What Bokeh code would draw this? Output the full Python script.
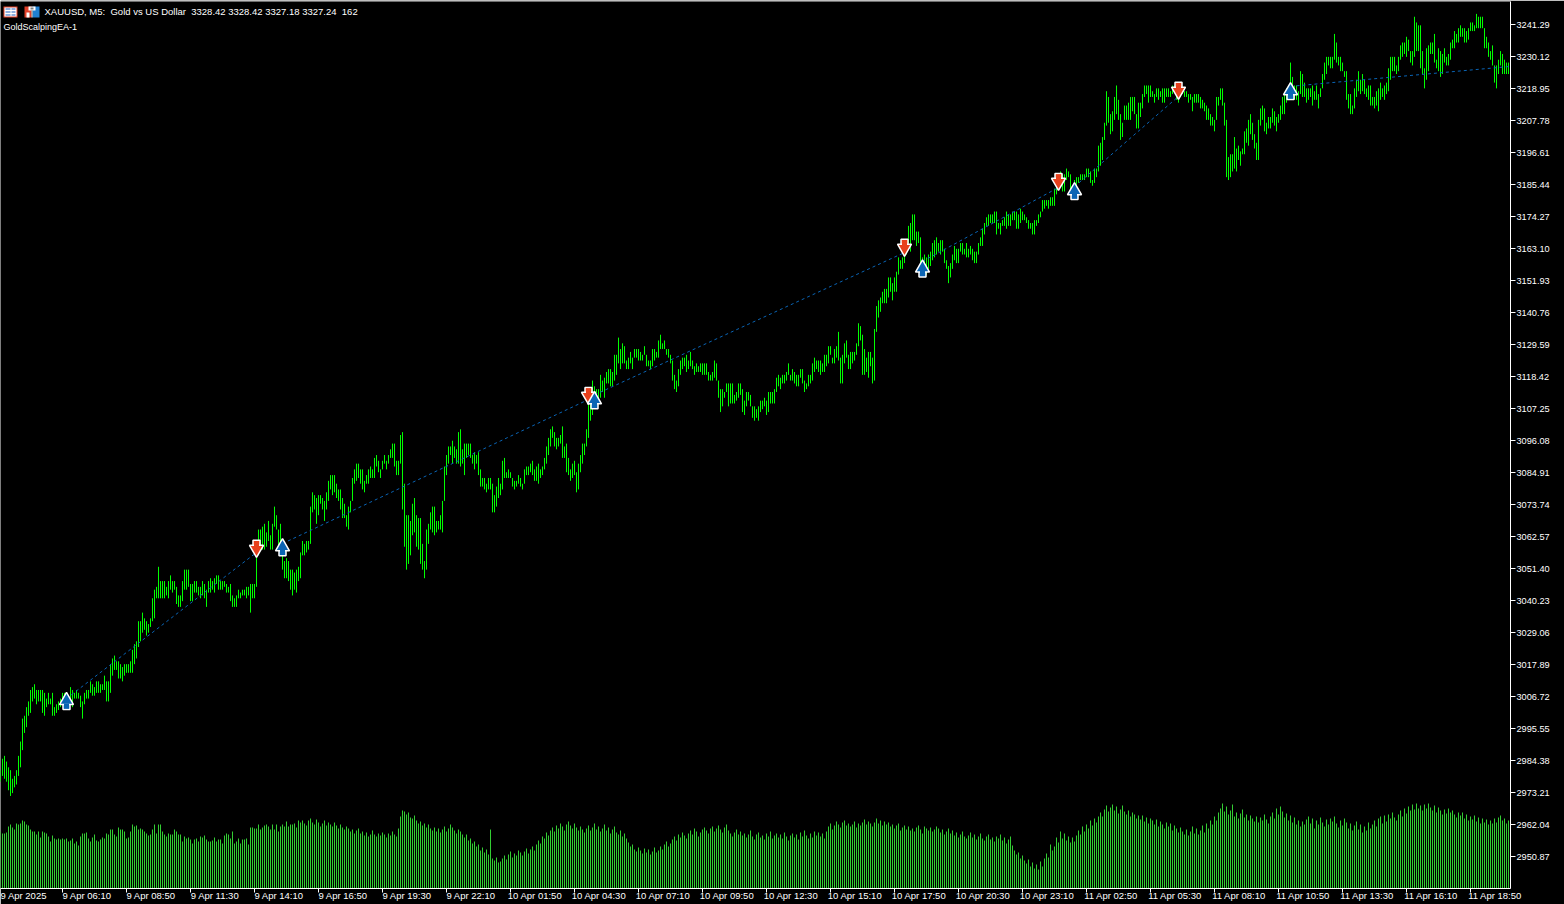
from bokeh.plotting import figure
from bokeh.embed import file_html
from bokeh.resources import INLINE
from bokeh.models import (Range1d, LinearAxis, FixedTicker, PrintfTickFormatter,
                          Label, BoxAnnotation)

highs = [
2981,2985,2986,2984,2982,2981,2978,2979,2981,2986,
2991,2999,3000,3003,3005,3009,3010,3011,3009,3009,
3009,3009,3008,3006,3008,3006,3008,3003,3004,3005,
3006,3008,3008,3007,3007,3010,3009,3008,3009,3008,
3007,3005,3008,3009,3009,3012,3011,3010,3012,3012,
3011,3011,3014,3012,3012,3018,3020,3021,3019,3019,
3018,3017,3018,3018,3018,3019,3023,3025,3026,3033,
3033,3036,3034,3033,3032,3034,3041,3044,3045,3052,
3047,3047,3047,3045,3047,3049,3047,3047,3045,3042,
3042,3047,3051,3051,3051,3046,3046,3047,3047,3045,
3045,3047,3046,3044,3047,3048,3047,3048,3049,3049,
3047,3047,3047,3046,3045,3046,3042,3041,3042,3044,
3043,3044,3044,3045,3045,3046,3046,3046,3057,3065,
3065,3066,3067,3064,3068,3063,3067,3073,3070,3065,
3067,3060,3054,3055,3054,3051,3051,3050,3051,3052,
3057,3061,3060,3061,3061,3073,3078,3077,3076,3077,
3077,3076,3075,3078,3082,3084,3084,3084,3081,3079,
3079,3076,3074,3070,3073,3075,3083,3086,3088,3088,
3086,3086,3082,3084,3086,3087,3086,3090,3091,3089,
3086,3089,3091,3089,3091,3093,3095,3095,3089,3089,
3098,3099,3081,3070,3070,3068,3074,3076,3070,3069,
3069,3060,3054,3065,3067,3071,3073,3073,3068,3068,
3070,3075,3087,3091,3094,3094,3096,3094,3093,3099,
3100,3093,3095,3095,3095,3095,3091,3092,3091,3092,
3086,3083,3083,3081,3083,3083,3081,3077,3080,3083,
3081,3089,3090,3085,3086,3085,3083,3082,3082,3084,
3083,3081,3086,3087,3087,3088,3089,3086,3087,3088,
3086,3087,3090,3094,3097,3100,3101,3099,3097,3097,
3098,3101,3094,3095,3090,3086,3088,3089,3085,3088,
3091,3095,3095,3100,3111,3112,3117,3115,3114,3114,
3119,3117,3118,3120,3121,3121,3120,3126,3126,3132,
3128,3130,3129,3124,3125,3127,3125,3128,3128,3128,
3127,3126,3129,3126,3124,3124,3128,3128,3127,3131,
3133,3130,3131,3128,3128,3126,3124,3119,3117,3121,
3124,3125,3125,3126,3124,3127,3124,3122,3123,3122,
3123,3123,3123,3123,3120,3119,3120,3124,3123,3117,
3114,3114,3113,3116,3116,3116,3116,3112,3113,3116,
3116,3114,3110,3113,3113,3112,3108,3108,3107,3108,
3110,3110,3111,3110,3113,3113,3113,3114,3118,3119,
3118,3119,3119,3120,3123,3119,3121,3120,3119,3119,
3121,3121,3117,3116,3119,3119,3123,3125,3124,3124,
3124,3123,3126,3126,3129,3129,3125,3128,3129,3134,
3125,3126,3130,3131,3126,3127,3127,3127,3130,3137,
3136,3133,3128,3125,3127,3127,3125,3135,3143,3145,
3146,3148,3149,3149,3153,3153,3151,3153,3155,3160,
3159,3160,3165,3164,3171,3172,3175,3175,3169,3169,
3167,3160,3161,3160,3161,3162,3165,3166,3167,3165,
3166,3166,3163,3159,3157,3158,3161,3164,3163,3163,
3165,3165,3163,3165,3163,3164,3163,3162,3162,3165,
3167,3170,3172,3174,3175,3175,3175,3176,3176,3172,
3172,3173,3174,3176,3175,3175,3176,3176,3176,3175,
3177,3176,3175,3174,3173,3172,3172,3173,3173,3175,
3176,3180,3180,3180,3180,3181,3181,3184,3188,3187,
3190,3189,3189,3191,3190,3189,3185,3187,3188,3188,
3189,3189,3189,3191,3191,3190,3187,3191,3191,3199,
3200,3202,3207,3218,3216,3210,3211,3216,3220,3215,
3210,3207,3213,3213,3214,3216,3216,3216,3210,3214,
3214,3217,3220,3220,3220,3220,3218,3217,3219,3219,
3218,3219,3219,3219,3219,3218,3220,3220,3219,3217,
3218,3218,3218,3218,3217,3217,3216,3217,3217,3217,
3216,3215,3214,3213,3212,3210,3209,3208,3216,3216,
3219,3219,3214,3208,3195,3196,3196,3202,3198,3199,
3197,3198,3204,3205,3208,3210,3207,3203,3200,3208,
3212,3213,3212,3207,3209,3209,3212,3211,3209,3210,
3213,3216,3217,3219,3220,3228,3223,3220,3220,3218,
3225,3224,3221,3219,3219,3219,3220,3218,3220,3217,
3219,3224,3228,3230,3230,3230,3230,3238,3235,3230,
3230,3228,3225,3225,3217,3217,3213,3219,3222,3225,
3222,3224,3222,3219,3220,3220,3216,3216,3218,3219,
3221,3219,3220,3221,3226,3230,3230,3230,3227,3230,
3234,3235,3235,3237,3236,3232,3232,3244,3242,3241,
3241,3232,3226,3233,3234,3235,3235,3238,3229,3233,
3232,3231,3233,3230,3231,3235,3236,3239,3238,3240,
3241,3240,3240,3239,3240,3242,3242,3241,3245,3244,
3244,3244,3240,3237,3235,3232,3234,3227,3227,3229,
3232,3231,3229,3228,3228,
]

lows = [
2977,2979,2978,2977,2974,2972,2973,2975,2976,2979,
2982,2988,2994,2996,3000,3001,3005,3006,3004,3005,
3005,3001,3000,3003,3004,3004,3000,3000,3001,3002,
3003,3004,3004,3004,3004,3006,3003,3006,3006,3006,
3003,2999,3004,3006,3006,3008,3007,3007,3008,3008,
3008,3009,3009,3005,3005,3008,3014,3016,3016,3013,
3013,3012,3014,3015,3015,3015,3015,3018,3020,3024,
3026,3029,3030,3028,3029,3031,3033,3034,3041,3041,
3041,3041,3041,3042,3041,3044,3043,3044,3039,3038,
3038,3040,3044,3044,3045,3040,3040,3043,3043,3042,
3041,3042,3041,3038,3043,3043,3044,3043,3046,3044,
3044,3044,3045,3043,3043,3040,3038,3038,3038,3041,
3041,3042,3042,3041,3042,3036,3041,3041,3045,3056,
3058,3058,3058,3059,3061,3058,3058,3066,3065,3059,
3060,3051,3048,3048,3047,3044,3042,3044,3043,3047,
3048,3056,3056,3057,3058,3060,3071,3072,3067,3070,
3074,3072,3068,3072,3075,3079,3077,3078,3076,3075,
3072,3069,3069,3066,3065,3071,3075,3081,3082,3083,
3081,3079,3078,3081,3081,3083,3083,3083,3087,3085,
3083,3086,3088,3086,3088,3090,3090,3087,3084,3084,
3088,3072,3059,3051,3053,3056,3063,3064,3059,3058,
3053,3051,3048,3051,3060,3065,3064,3063,3064,3065,
3065,3064,3075,3084,3088,3091,3088,3090,3088,3088,
3087,3088,3084,3090,3091,3090,3088,3086,3088,3084,
3080,3080,3079,3078,3079,3079,3071,3071,3073,3076,
3077,3079,3083,3083,3083,3083,3080,3079,3080,3081,
3080,3079,3081,3084,3084,3085,3084,3082,3082,3081,
3083,3084,3086,3088,3091,3094,3097,3094,3093,3094,
3095,3090,3090,3085,3084,3082,3083,3084,3078,3079,
3085,3088,3091,3094,3097,3103,3105,3110,3111,3110,
3111,3113,3111,3116,3116,3115,3115,3117,3119,3123,
3121,3123,3123,3121,3121,3123,3121,3125,3125,3124,
3124,3124,3126,3122,3122,3121,3122,3124,3125,3125,
3128,3128,3128,3126,3125,3123,3117,3114,3113,3115,
3119,3121,3122,3120,3121,3122,3121,3119,3120,3120,
3120,3119,3119,3119,3117,3117,3117,3118,3117,3111,
3106,3108,3111,3113,3108,3109,3109,3109,3110,3111,
3112,3106,3105,3108,3110,3108,3104,3103,3104,3103,
3106,3107,3108,3105,3106,3109,3109,3109,3113,3115,
3114,3116,3116,3117,3119,3117,3117,3116,3115,3115,
3118,3116,3113,3114,3115,3116,3117,3120,3121,3120,
3119,3120,3120,3122,3123,3126,3123,3123,3125,3124,
3116,3116,3123,3125,3121,3121,3123,3124,3126,3129,
3131,3119,3119,3120,3118,3122,3116,3117,3134,3139,
3141,3144,3144,3144,3146,3148,3145,3148,3148,3154,
3156,3156,3158,3161,3165,3162,3166,3166,3164,3165,
3154,3154,3156,3154,3156,3157,3159,3160,3161,3162,
3161,3162,3158,3156,3151,3153,3156,3159,3158,3158,
3162,3161,3161,3160,3160,3161,3159,3158,3158,3161,
3164,3164,3168,3171,3171,3172,3172,3172,3168,3170,
3168,3171,3171,3170,3171,3171,3173,3173,3170,3170,
3172,3173,3173,3172,3170,3170,3168,3168,3171,3172,
3174,3176,3177,3178,3177,3178,3178,3178,3182,3184,
3186,3183,3183,3187,3188,3183,3183,3184,3184,3186,
3187,3187,3187,3188,3188,3186,3185,3186,3188,3190,
3192,3194,3201,3206,3207,3203,3204,3208,3210,3208,
3201,3202,3208,3208,3208,3208,3211,3210,3205,3205,
3209,3212,3216,3217,3214,3216,3216,3214,3216,3215,
3216,3214,3214,3216,3216,3216,3217,3218,3215,3214,
3216,3217,3216,3216,3214,3215,3211,3214,3214,3214,
3212,3212,3211,3208,3208,3206,3206,3204,3208,3213,
3215,3213,3206,3188,3187,3188,3190,3191,3190,3194,
3192,3196,3196,3200,3199,3203,3201,3198,3194,3194,
3206,3208,3204,3203,3205,3205,3207,3206,3204,3207,
3208,3210,3210,3214,3215,3218,3216,3215,3215,3213,
3217,3216,3216,3214,3215,3216,3213,3215,3215,3212,
3216,3219,3222,3224,3227,3226,3226,3229,3228,3227,
3225,3225,3223,3215,3212,3210,3210,3212,3216,3218,
3217,3218,3217,3216,3215,3213,3213,3212,3213,3211,
3215,3216,3215,3217,3218,3222,3225,3225,3224,3225,
3229,3230,3231,3230,3232,3228,3227,3230,3232,3232,
3226,3224,3219,3222,3225,3231,3231,3228,3226,3225,
3223,3224,3228,3227,3227,3229,3233,3233,3235,3235,
3237,3237,3235,3235,3236,3239,3239,3239,3240,3240,
3240,3240,3233,3233,3230,3229,3227,3221,3219,3224,
3227,3224,3224,3224,3224,
]

volumes = [
57,55,55,56,62,64,61,59,65,64,65,68,67,64,63,59,57,57,54,57,
51,57,56,55,52,47,53,50,49,50,
49,50,49,50,47,48,50,45,47,43,
52,55,55,56,50,47,51,54,48,47,
49,51,50,55,54,59,59,54,52,61,
59,59,57,50,51,57,64,62,63,59,
60,59,57,55,53,54,59,64,55,64,
64,57,54,52,55,54,54,59,57,54,
54,47,52,50,51,49,45,49,50,47,
52,51,53,49,47,47,48,51,47,49,
49,45,53,55,54,50,57,45,47,50,
45,49,49,50,44,61,61,60,60,64,
59,61,63,64,62,59,64,59,64,57,
62,64,62,67,62,64,64,65,61,68,
66,68,65,63,68,70,66,64,69,66,62,65,68,63,66,64,62,66,63,60,
64,61,59,62,60,57,59,55,58,60,55,57,53,56,52,54,58,54,52,55,
53,56,54,51,55,53,57,54,52,60,72,78,77,74,76,71,70,73,68,65,
67,63,65,61,64,60,58,61,57,60,56,59,62,57,60,64,61,58,55,59,
57,54,51,54,48,50,45,47,42,44,38,41,36,39,34,59,30,28,31,26,
27,30,33,29,34,37,31,35,33,38,36,33,37,40,35,39,42,38,44,48,
45,52,50,56,53,58,61,57,63,60,65,62,58,64,67,63,60,65,61,58,
62,59,56,60,63,58,61,65,59,62,57,60,64,58,61,55,59,62,56,54,
58,52,55,50,46,42,44,39,37,41,38,35,40,36,39,34,37,41,36,38,
42,39,44,47,42,45,49,52,48,54,51,56,53,50,55,58,54,60,57,52,
56,59,61,58,55,60,62,57,60,63,59,56,61,64,58,55,52,56,59,54,
57,53,55,51,54,58,52,49,54,56,51,53,49,55,52,57,50,53,55,51,
54,50,56,52,48,53,55,51,54,49,56,52,58,53,50,55,51,57,53,56,
52,55,50,57,62,65,59,63,67,64,61,66,68,63,65,62,64,67,61,65,
63,66,69,64,67,65,62,66,70,65,68,63,67,64,66,62,64,60,63,65,
58,61,63,59,62,58,60,57,61,63,59,55,62,60,58,61,57,59,62,60,
56,59,54,57,60,55,58,53,56,51,54,57,52,50,53,56,51,54,49,52,
55,50,48,52,54,49,51,47,52,50,54,48,51,45,49,52,43,38,34,36,
30,33,28,25,29,22,26,20,24,19,27,22,30,35,31,44,38,42,51,46,
57,50,55,48,52,46,51,47,53,58,54,62,57,64,60,68,63,70,66,72,
76,72,79,83,77,81,84,78,82,75,79,83,77,74,78,72,76,74,70,73,
69,73,67,71,65,70,68,64,69,62,67,64,60,66,62,65,58,63,60,56,
61,57,54,59,53,57,62,55,60,54,58,63,56,65,60,68,64,72,68,76,
80,85,77,82,74,78,84,72,76,70,75,79,71,74,68,73,70,67,72,66,
71,68,74,69,65,72,76,70,80,74,82,77,71,75,68,73,66,71,64,68,
62,67,64,69,72,65,70,60,68,64,71,66,62,69,64,70,67,72,65,61,
68,63,70,66,60,65,58,63,67,59,64,56,62,58,66,60,64,68,62,70,
72,65,73,67,74,70,76,71,68,74,78,72,80,75,82,78,84,79,85,80,
83,78,84,80,85,81,78,83,76,81,78,74,79,75,80,76,78,74,71,76,
73,76,70,74,68,72,69,73,67,71,65,70,66,69,64,68,65,70,66,71,
73,68,70,65,68,
]

price_ticks = [3241.29,3230.12,3218.95,3207.78,3196.61,3185.44,3174.27,3163.10,3151.93,
               3140.76,3129.59,3118.42,3107.25,3096.08,3084.91,3073.74,3062.57,3051.40,
               3040.23,3029.06,3017.89,3006.72,2995.55,2984.38,2973.21,2962.04,2950.87]
time_tick_bars = [31,63,95,127,159,191,223,255,287,319,351,383,415,447,479,511,543,575,607,639,671,703,735]
time_tick_labels = ["9 Apr 06:10","9 Apr 08:50","9 Apr 11:30","9 Apr 14:10","9 Apr 16:50","9 Apr 19:30",
                    "9 Apr 22:10","10 Apr 01:50","10 Apr 04:30","10 Apr 07:10","10 Apr 09:50","10 Apr 12:30",
                    "10 Apr 15:10","10 Apr 17:50","10 Apr 20:30","10 Apr 23:10","11 Apr 02:50","11 Apr 05:30",
                    "11 Apr 08:10","11 Apr 10:50","11 Apr 13:30","11 Apr 16:10","11 Apr 18:50"]
first_label = "9 Apr 2025"

sell_bars = [128,294,452,529,589]
sell_prices = [3058.4,3111.8,3163.5,3186.5,3218.3]
buy_bars = [33,141,297,461,537,645]
buy_prices = [3005.0,3058.7,3110.0,3156.0,3183.0,3217.9]

trade_open_bars = [33,141,297,461,537,645]
trade_close_bars = [128,294,452,529,589,754]
trade_open_prices = [3006.0,3060.1,3112.0,3158.6,3184.7,3219.7]
trade_close_prices = [3057.0,3110.4,3161.7,3184.4,3216.2,3226.6]

assert len(highs) == len(lows) == len(volumes), (len(highs), len(lows), len(volumes))
bars = list(range(len(highs)))

TEXT_FONT = "Liberation Sans"
SIZE = "9.5px"

p = figure(width=1564, height=904, output_backend="svg", toolbar_location=None,
           x_range=Range1d(0, 755), y_range=Range1d(2939.70, 3249.32),
           min_border_left=0, min_border_top=1, min_border_right=54, min_border_bottom=16,
           background_fill_color="black", border_fill_color="black", outline_line_color=None,
           x_axis_location=None, y_axis_location=None)
p.styles = {"position": "absolute", "left": "0px", "top": "0px"}
p.grid.visible = False
p.extra_y_ranges = {"vol": Range1d(0, 887)}

# volumes
p.segment(bars, [0] * len(bars), bars, volumes, y_range_name="vol", line_color="#32CD32", line_width=1)
# candles
p.segment(bars, lows, bars, highs, line_color="#00FF00", line_width=1)
# trade lines
for b0, b1, p0, p1 in zip(trade_open_bars, trade_close_bars, trade_open_prices, trade_close_prices):
    p.line([b0, b1], [p0, p1], line_color="#0A64B4", line_width=1, line_dash="3 3")

# arrows: a shaft plus a head, white outlined
def arrows(xs, ys, color, head, sign):
    shaft = [y + sign * 1.6 for y in ys]
    tip = [y - sign * 0.3 for y in ys]
    p.scatter(xs, shaft, marker="square", size=7, fill_color=color, line_color="white", line_width=1.5)
    p.scatter(xs, tip, marker=head, size=14, fill_color=color, line_color="white", line_width=1.5)
    p.scatter(xs, shaft, marker="square", size=5, fill_color=color, line_color=None)

arrows(sell_bars, sell_prices, "#E8401C", "inverted_triangle", 1)
arrows(buy_bars, buy_prices, "#0A64B4", "triangle", -1)

# right price axis
ry = LinearAxis(ticker=FixedTicker(ticks=price_ticks), formatter=PrintfTickFormatter(format="%.2f"))
ry.axis_line_color = "white"
ry.major_tick_line_color = "white"
ry.major_tick_in = 0
ry.major_tick_out = 5
ry.minor_tick_line_color = None
ry.major_label_text_color = "white"
ry.major_label_text_font = TEXT_FONT
ry.major_label_text_font_size = "9.2px"
ry.major_label_standoff = 1
p.add_layout(ry, "right")

# bottom axis: marks only
tx = LinearAxis(ticker=FixedTicker(ticks=time_tick_bars),
                major_label_overrides={b: "" for b in time_tick_bars})
tx.axis_line_color = "white"
tx.major_tick_line_color = "white"
tx.major_tick_in = 0
tx.major_tick_out = 4
tx.minor_tick_line_color = None
tx.major_label_text_font_size = "0px"
tx.major_label_standoff = 0
p.add_layout(tx, "below")

# bottom axis: texts, which start at their tick mark
label_shift = 12.25
label_bars = [10.25] + [b + label_shift for b in time_tick_bars]
label_texts = [first_label] + time_tick_labels
lx = LinearAxis(ticker=FixedTicker(ticks=label_bars),
                major_label_overrides=dict(zip(label_bars, label_texts)))
lx.axis_line_color = None
lx.major_tick_line_color = None
lx.minor_tick_line_color = None
lx.major_tick_in = 0
lx.major_tick_out = 0
lx.major_label_standoff = -3
lx.major_label_text_color = "white"
lx.major_label_text_font = TEXT_FONT
lx.major_label_text_font_size = SIZE
p.add_layout(lx, "below")

# top edge and header
def box(l, t, r, b, color):
    p.add_layout(BoxAnnotation(left=l, right=r, top=t, bottom=b, left_units="canvas", right_units="canvas",
                               top_units="canvas", bottom_units="canvas", fill_color=color, fill_alpha=1,
                               line_color=None))

box(0, 0, 1511, 1, "white")
box(3, 6, 17, 17, "#E0402A")
box(4, 7, 16, 16, "white")
box(5, 8, 10, 9, "#2060C0"); box(5, 11, 10, 12, "#2060C0"); box(5, 14, 10, 15, "#2060C0")
box(11, 8, 15, 9, "#2060C0"); box(11, 11, 15, 12, "#2060C0"); box(11, 14, 15, 15, "#2060C0")
box(24, 6, 31, 17, "#E0402A")
box(32, 6, 39, 17, "#2080D0")
box(28, 6, 35, 10, "white")
box(30, 7, 33, 9, "#808080")
box(31, 10, 32, 17, "white")
box(26, 12, 29, 17, "white")

for text, x, y, size in [("XAUUSD, M5: \u00a0Gold vs US Dollar \u00a03328.42 3328.42 3327.18 3327.24 \u00a0162", 44, 11, SIZE),
                         ("GoldScalpingEA-1", 3, 26, "9px")]:
    p.add_layout(Label(x=x, y=y, x_units="canvas", y_units="canvas", text=text, text_color="white",
                       text_font=TEXT_FONT, text_font_size=size, text_baseline="middle", text_align="left"))

open("out.html", "w").write(file_html(p, INLINE))
